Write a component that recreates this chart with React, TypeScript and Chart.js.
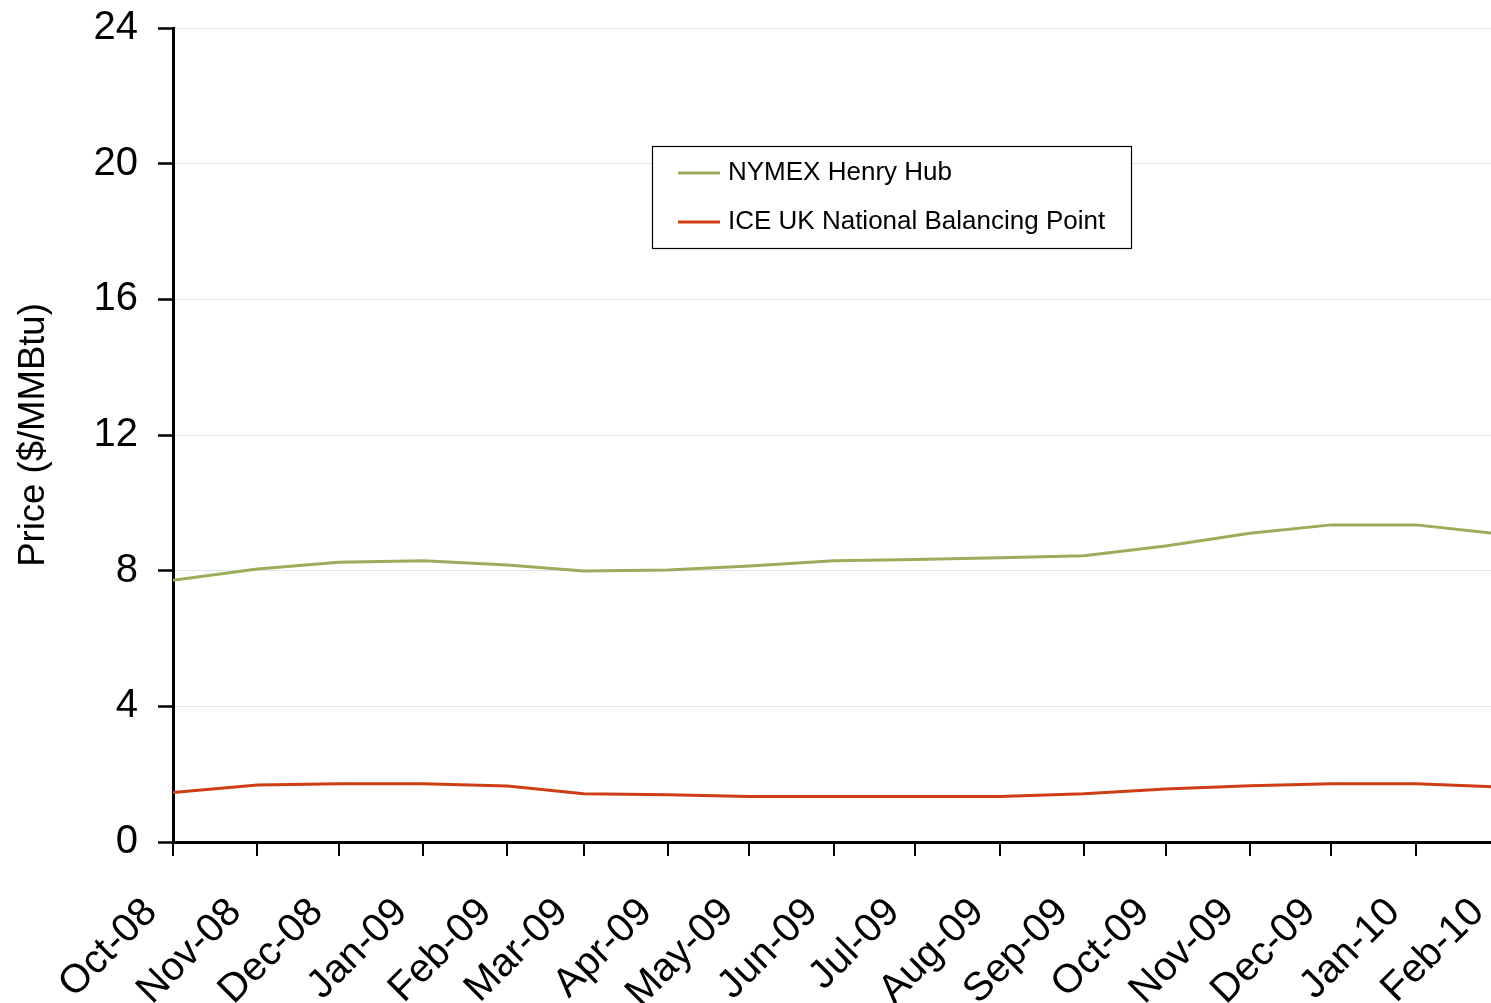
import React, { useEffect, useRef } from 'react';
import { Chart, registerables } from 'chart.js';

Chart.register(...registerables);

const monthLabels = [
  'Oct-08', 'Nov-08', 'Dec-08', 'Jan-09', 'Feb-09', 'Mar-09', 'Apr-09', 'May-09', 'Jun-09',
  'Jul-09', 'Aug-09', 'Sep-09', 'Oct-09', 'Nov-09', 'Dec-09', 'Jan-10', 'Feb-10',
];

const henryHub = [7.72, 8.05, 8.25, 8.29, 8.17, 7.99, 8.02, 8.14, 8.29, 8.33, 8.38, 8.44, 8.73, 9.1, 9.35, 9.35, 9.08];
const nbp = [1.46, 1.68, 1.72, 1.72, 1.65, 1.42, 1.39, 1.34, 1.34, 1.34, 1.34, 1.42, 1.56, 1.66, 1.72, 1.72, 1.62];

const yTicks = [0, 4, 8, 12, 16, 20, 24];

const seriesNames = ['NYMEX Henry Hub', 'ICE UK National Balancing Point'];
const seriesColors = ['#9aad5a', '#cf3d14'];

// day offset of each month start from the first month (date axis)
const DAY = 86400000;
const monthDays = monthLabels.map((_, i) => (Date.UTC(2008, 9 + i, 1) - Date.UTC(2008, 9, 1)) / DAY);

const FONT = '"Liberation Sans", Arial, Helvetica, sans-serif';

const boxLegend = {
  id: 'boxLegend',
  afterDraw(chart: any) {
    const ctx = chart.ctx as CanvasRenderingContext2D;
    const x0 = 652.5, y0 = 146.5, w = 479, h = 102;
    ctx.save();
    ctx.fillStyle = '#ffffff';
    ctx.fillRect(x0, y0, w, h);
    ctx.strokeStyle = '#000000';
    ctx.lineWidth = 1.2;
    ctx.strokeRect(x0, y0, w, h);
    chart.data.datasets.forEach((ds: any, i: number) => {
      const y = 173 + i * 49;
      ctx.strokeStyle = ds.borderColor;
      ctx.lineWidth = 3;
      ctx.beginPath();
      ctx.moveTo(678, y);
      ctx.lineTo(720, y);
      ctx.stroke();
      ctx.fillStyle = '#000000';
      ctx.font = `26px ${FONT}`;
      ctx.textBaseline = 'middle';
      ctx.textAlign = 'left';
      ctx.fillText(ds.label, 728, y);
    });
    ctx.restore();
  },
};

export default function App() {
  const canvasRef = useRef<HTMLCanvasElement | null>(null);

  useEffect(() => {
    if (!canvasRef.current) return;
    const chart = new Chart(canvasRef.current, {
      type: 'line',
      data: {
        datasets: [
          {
            label: seriesNames[0],
            data: henryHub.map((v, i) => ({ x: monthDays[i], y: v })),
            borderColor: seriesColors[0],
            backgroundColor: seriesColors[0],
            borderWidth: 3,
            pointRadius: 0,
            tension: 0,
          },
          {
            label: seriesNames[1],
            data: nbp.map((v, i) => ({ x: monthDays[i], y: v })),
            borderColor: seriesColors[1],
            backgroundColor: seriesColors[1],
            borderWidth: 3,
            pointRadius: 0,
            tension: 0,
          },
        ],
      },
      options: {
        responsive: false,
        animation: false,
        devicePixelRatio: 1,
        layout: { padding: { top: 28, right: 30, left: 0, bottom: 0 } },
        plugins: {
          legend: { display: false },
          tooltip: { enabled: false },
        },
        scales: {
          x: {
            type: 'linear',
            min: monthDays[0],
            max: monthDays[monthDays.length - 1],
            afterBuildTicks(scale: any) {
              scale.ticks = monthDays.map((d) => ({ value: d }));
            },
            afterFit(scale: any) {
              scale.height = 161;
              scale.paddingLeft = 0;
              scale.paddingRight = 0;
            },
            ticks: {
              autoSkip: false,
              minRotation: 45,
              maxRotation: 45,
              labelOffset: -22,
              padding: 33,
              color: '#000000',
              font: { family: FONT, size: 40 },
              callback: (value: any) => {
                const idx = monthDays.indexOf(Number(value));
                return idx >= 0 ? monthLabels[idx] : '';
              },
            },
            grid: {
              drawOnChartArea: false,
              drawTicks: true,
              tickLength: 14,
              color: '#000000',
              lineWidth: 2,
            },
            border: { display: true, color: '#000000', width: 3 },
          },
          y: {
            min: 0,
            max: 24,
            afterBuildTicks(scale: any) {
              scale.ticks = yTicks.map((v) => ({ value: v }));
            },
            afterFit(scale: any) {
              scale.width = 173;
              scale.paddingTop = 0;
              scale.paddingBottom = 0;
            },
            ticks: {
              padding: 20,
              color: '#000000',
              font: { family: FONT, size: 40 },
            },
            grid: {
              color: '#dde5e8',
              lineWidth: 1,
              tickColor: '#000000',
              tickLength: 15,
              tickWidth: 2.5,
            },
            border: { display: true, color: '#000000', width: 3 },
            title: {
              display: true,
              text: 'Price ($/MMBtu)',
              color: '#000000',
              font: { family: FONT, size: 36.5 },
              padding: { top: 12, bottom: 0 },
            },
          },
        },
      },
      plugins: [boxLegend],
    });
    return () => chart.destroy();
  }, []);

  return (
    <div
      style={{
        position: 'fixed',
        left: 0,
        top: 0,
        width: 1491,
        height: 1003,
        overflow: 'hidden',
        background: '#ffffff',
      }}
    >
      <canvas ref={canvasRef} width={1530} height={1003} style={{ display: 'block', width: 1530, height: 1003 }} />
    </div>
  );
}
